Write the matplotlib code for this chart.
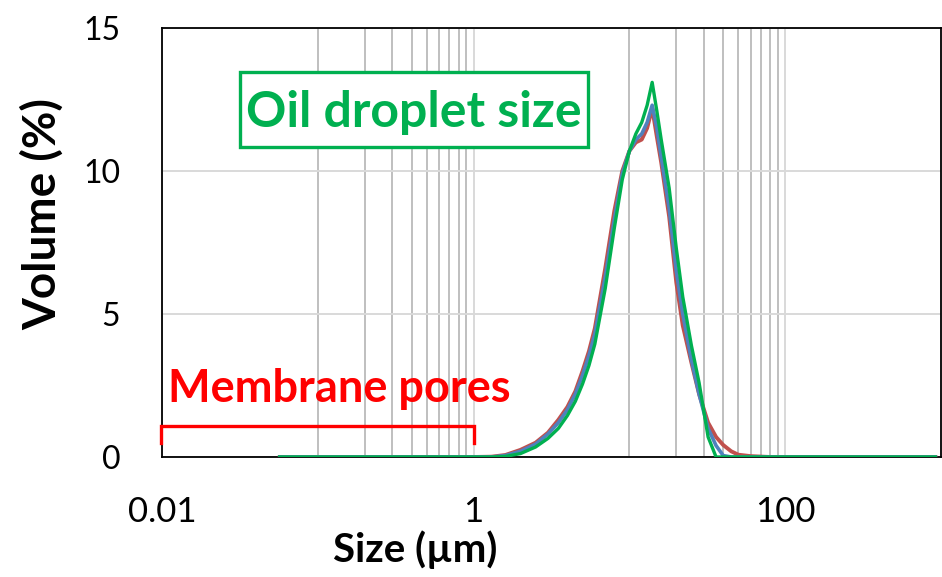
import matplotlib
matplotlib.use("Agg")
import matplotlib.pyplot as plt
from matplotlib.patches import Rectangle
from matplotlib.ticker import NullFormatter

plt.rcParams['font.family'] = ['Lato', 'DejaVu Sans']

# Particle size (um) and volume density (%) for the three emulsion runs
size_um = [0.057, 1.0, 1.3, 1.6, 2.0, 2.5, 3.0, 3.5, 4.0, 4.5, 5.0, 5.5, 6.0,
           7.0, 8.0, 9.0, 10.0, 11.0, 12.0, 13.0, 14.0, 15.0, 16.0, 18.0,
           20.0, 22.0, 25.0, 28.0, 32.0, 36.0, 40.0, 45.0, 50.0, 60.0, 80.0,
           920.0]
vol_red = [0.0, 0.0, 0.01, 0.07, 0.25, 0.5, 0.85, 1.3, 1.75, 2.3, 3.0, 3.7,
           4.5, 6.6, 8.6, 10.0, 10.7, 11.0, 11.1, 11.5, 12.2, 11.2, 10.3, 8.4,
           6.1, 4.6, 3.3, 2.2, 1.2, 0.7, 0.42, 0.2, 0.08, 0.03, 0.0, 0.0]
vol_blue = [0.0, 0.0, 0.0, 0.05, 0.2, 0.45, 0.8, 1.2, 1.65, 2.2, 2.85, 3.55,
            4.3, 6.3, 8.3, 9.9, 10.7, 11.1, 11.3, 11.7, 12.3, 11.5, 10.5, 8.7,
            6.5, 5.0, 3.4, 2.2, 1.0, 0.4, 0.05, 0.0, 0.0, 0.0, 0.0, 0.0]
vol_green = [0.0, 0.0, 0.0, 0.02, 0.12, 0.35, 0.65, 1.0, 1.45, 1.95, 2.55,
             3.2, 3.95, 5.9, 8.0, 9.7, 10.7, 11.3, 11.7, 12.3, 13.1, 12.1,
             11.1, 9.4, 7.3, 5.6, 3.9, 2.6, 0.7, 0.0, 0.0, 0.0, 0.0, 0.0,
             0.0, 0.0]

x_major = [0.01, 1, 100]
x_major_labels = ['0.01', '1', '100']
x_minor = [0.1, 0.2, 0.3, 0.4, 0.5, 0.6, 0.7, 0.8, 0.9,
           10, 20, 30, 40, 50, 60, 70, 80, 90]
y_ticks = [0, 5, 10, 15]

fig = plt.figure(figsize=(9.42, 5.77), dpi=100)
ax = fig.add_axes([162 / 942, 120 / 577, 779 / 942, 429 / 577])

ax.plot(size_um, vol_red, color='#C0504D', lw=2.8, zorder=3)
ax.plot(size_um, vol_blue, color='#4F81BD', lw=2.6, zorder=4)
ax.plot(size_um, vol_green, color='#00B050', lw=2.4, zorder=5)

ax.set_xscale('log')
ax.set_xlim(0.01, 1000)
ax.set_ylim(0, 15)
ax.set_xticks(x_major, labels=x_major_labels)
ax.set_xticks(x_minor, minor=True)
ax.xaxis.set_minor_formatter(NullFormatter())
ax.set_yticks(y_ticks)

ax.grid(which='major', axis='both', color='#D9D9D9', lw=1.4, zorder=0)
ax.grid(which='minor', axis='x', color='#BFBFBF', lw=1.4, zorder=0)
ax.set_axisbelow(True)
ax.tick_params(which='both', length=0)
ax.tick_params(axis='y', labelsize=23, pad=30)
ax.tick_params(axis='x', labelsize=25, pad=28)
for sp in ax.spines.values():
    sp.set_color('black')
    sp.set_linewidth(1.3)

ax.set_xlabel('Size (µm)', fontsize=29, fontweight='bold', va='center')
ax.xaxis.set_label_coords(0.325, -0.217)
ax.set_ylabel('Volume (%)', fontsize=33, fontweight='bold', va='center')
ax.yaxis.set_label_coords(-0.154, 0.566)

# droplet size callout
ax.add_patch(Rectangle((0.100, 0.7226), 0.447, 0.1744, transform=ax.transAxes,
                       facecolor='white', edgecolor='#00B050', lw=2.4,
                       zorder=6))
ax.text(0.3235, 0.770, 'Oil droplet size', transform=ax.transAxes,
        ha='center', va='baseline', fontsize=36, fontweight='bold',
        color='#00B050', zorder=7)

# membrane pore range bracket, 0.01 to 1 um
ax.plot([0.0098, 0.0098, 1, 1], [0.5, 1.08, 1.08, 0.5], color='#FF0000',
        lw=2.4, solid_joinstyle='miter', clip_on=False, zorder=6)
ax.text(0.0077, 0.128, 'Membrane pores', transform=ax.transAxes,
        ha='left', va='baseline', fontsize=32.5, fontweight='bold',
        color='#FF0000', zorder=7)

fig.savefig('out.png', dpi=100)
